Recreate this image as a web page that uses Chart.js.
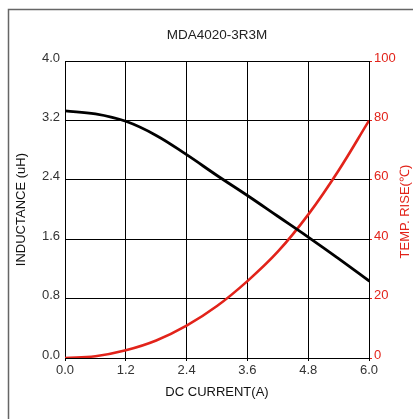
<!DOCTYPE html>
<html>
<head>
<meta charset="utf-8">
<script src="https://cdn.jsdelivr.net/npm/chart.js@4/dist/chart.umd.min.js"></script>
<style>
  html, body { margin: 0; padding: 0; background: #fff; }
  canvas { display: block; }
</style>
</head>
<body>
<canvas id="grafico" width="413" height="419"></canvas>
<script>
// data
const corriente = [0, 0.6, 1.2, 1.8, 2.4, 3.0, 3.6, 4.2, 4.8, 5.4, 6.0];
const inductancia = [3.33, 3.29, 3.19, 3.00, 2.74, 2.46, 2.19, 1.91, 1.63, 1.34, 1.04];
const temperatura = [0, 0.6, 2.6, 5.9, 10.9, 17.5, 25.9, 35.8, 48.3, 63.2, 80];
const xTicks = [0, 1.2, 2.4, 3.6, 4.8, 6.0];
const yTicks = [0, 0.8, 1.6, 2.4, 3.2, 4.0];
const tempTicks = [0, 20, 40, 60, 80, 100];

const ROJO = '#e2231a';
const FUENTE = '"Liberation Sans", Arial, sans-serif';
Chart.defaults.font.family = FUENTE;
Chart.defaults.font.size = 13;
Chart.defaults.color = '#333';

const marco = {
  id: 'marco',
  beforeDraw(chart) {
    const ctx = chart.ctx;
    ctx.save();
    ctx.fillStyle = '#fff';
    ctx.fillRect(0, 0, chart.width, chart.height);
    ctx.strokeStyle = '#666';
    ctx.lineWidth = 1.5;
    ctx.strokeRect(8.5, 9.5, 600, 600);
    ctx.restore();
  },
  afterDraw(chart) {
    // right axis title reads bottom-to-top like the left one
    const ctx = chart.ctx;
    const a = chart.chartArea;
    ctx.save();
    ctx.translate(405, (a.top + a.bottom) / 2 + 2);
    ctx.rotate(-Math.PI / 2);
    ctx.fillStyle = ROJO;
    ctx.font = '13px ' + FUENTE;
    ctx.textAlign = 'center';
    ctx.textBaseline = 'middle';
    ctx.fillText('TEMP. RISE(\u2103)', 0, 0);
    ctx.restore();
  }
};

const fijar = (n, v) => (s) => { s[n] = v; };

new Chart(document.getElementById('grafico'), {
  type: 'line',
  data: {
    datasets: [{
      data: corriente.map((x, i) => ({ x, y: inductancia[i] })),
      borderColor: '#000',
      borderWidth: 2.8,
      pointRadius: 0,
      tension: 0.4,
      borderCapStyle: 'round',
      yAxisID: 'y'
    }, {
      data: corriente.map((x, i) => ({ x, y: temperatura[i] })),
      borderColor: ROJO,
      borderWidth: 2.6,
      pointRadius: 0,
      tension: 0.4,
      yAxisID: 'y2'
    }]
  },
  options: {
    responsive: false,
    animation: false,
    layout: { padding: 0 },
    plugins: {
      legend: { display: false },
      tooltip: { enabled: false },
      title: {
        display: true,
        text: 'MDA4020-3R3M',
        fullSize: false,
        color: '#222',
        font: { size: 13.5, weight: 'normal' },
        padding: { top: 27, bottom: 18 }
      }
    },
    scales: {
      x: {
        type: 'linear',
        min: 0, max: 6,
        afterFit: fijar('height', 61),
        afterBuildTicks: (s) => { s.ticks = xTicks.map(v => ({ value: v })); },
        grid: { color: '#000', tickLength: 3, tickColor: '#000' },
        border: { color: '#000' },
        ticks: { padding: 2, maxRotation: 0, callback: v => v.toFixed(1) },
        title: { display: true, text: 'DC CURRENT(A)', color: '#111', padding: { top: 0, bottom: 18.5 } }
      },
      y: {
        position: 'left',
        min: 0, max: 4,
        afterFit: fijar('width', 65),
        afterBuildTicks: (s) => { s.ticks = yTicks.map(v => ({ value: v })); },
        grid: { color: '#000', drawTicks: false },
        border: { color: '#000' },
        ticks: { padding: 5, labelOffset: -3, callback: v => v.toFixed(1) },
        title: { display: true, text: 'INDUCTANCE (uH)', color: '#111', padding: { top: 14, bottom: 0 } }
      },
      y2: {
        position: 'right',
        min: 0, max: 100,
        afterFit: fijar('width', 44),
        afterBuildTicks: (s) => { s.ticks = tempTicks.map(v => ({ value: v })); },
        grid: { drawOnChartArea: false, tickLength: 3, tickColor: ROJO },
        border: { color: '#000' },
        ticks: { color: ROJO, padding: 2, labelOffset: -3 }
      }
    }
  },
  plugins: [marco]
});
</script>
</body>
</html>
